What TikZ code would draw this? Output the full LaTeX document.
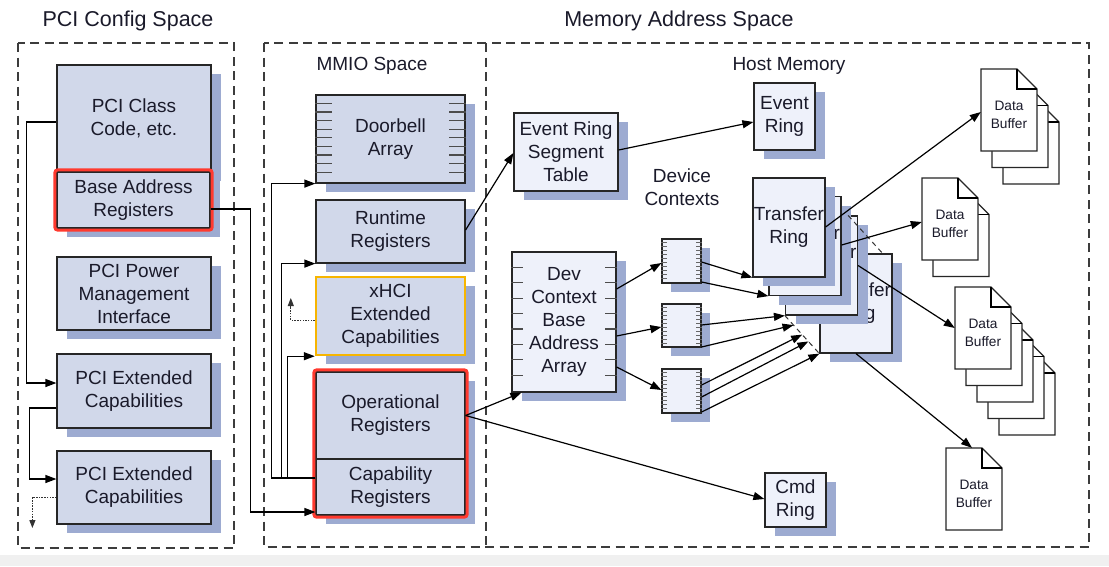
\documentclass[tikz,border=0pt]{standalone}
\usepackage{fontspec}
\setmainfont{Liberation Sans}
\usetikzlibrary{arrows.meta,shadows,fit,calc}
\definecolor{boxc}{HTML}{D1D8EA}
\definecolor{hostc}{HTML}{EEF1FA}
\definecolor{shc}{HTML}{9DABD1}
\definecolor{redc}{HTML}{FF3A2F}
\definecolor{orc}{HTML}{F7B500}
\definecolor{dashc}{HTML}{3C3C3C}
\definecolor{txtc}{HTML}{1A1A2A}
\definecolor{bandc}{HTML}{F0F0F0}
\newcommand\docstack[4]{%
  \foreach \k in {#4,...,1}{%
    \pgfmathsetmacro\ddx{#2+(\k-1)*11}%
    \pgfmathsetmacro\ddy{#3+(\k-1)*16.5}%
    \draw[docline] (\ddx,\ddy) -- ++(36,0) -- ++(20,20) -- ++(0,62) -- ++(-56,0) -- cycle;
    \draw[foldline] (\ddx+36,\ddy) -- ++(0,20) -- ++(20,0);
  }%
  \node[docbox] (#1) at (#2+28,#3+41) {};
  \node[doctext] (#1t) at (#2+28,#3+46) {Data\\Buffer};
}
\begin{document}
\begin{tikzpicture}[x=1pt,y=-1pt,
  every node/.style={text=txtc},
  wh/.style 2 args={minimum width=#1pt, minimum height=#2pt},
  bx/.style={draw=black!85, line width=1.2pt, fill=boxc, align=center, inner sep=0pt,
    font=\fontsize{19}{23}\selectfont,
    general shadow={fill=shc, shadow xshift=10pt, shadow yshift=-9pt}},
  hx/.style={bx, fill=hostc},
  smallbx/.style={draw=black!85, line width=1.2pt, fill=hostc, inner sep=0pt,
    general shadow={fill=shc, shadow xshift=9pt, shadow yshift=-9pt}},
  title/.style={font=\fontsize{21.5}{25}\selectfont},
  sublabel/.style={font=\fontsize{19}{23}\selectfont, align=center},
  frame/.style={draw=dashc, line width=1.4pt, dash pattern=on 9pt off 5.5pt},
  conn/.style={draw=black, line width=1.2pt},
  arr/.style={conn, -{Triangle[length=11pt,width=8pt]}},
  dotarr/.style={draw=black!80, line width=1pt, dash pattern=on 1.5pt off 1.2pt, -{Triangle[length=8pt,width=6pt]}},
  redframe/.style={draw=redc, line width=3pt, rounded corners=3pt, inner sep=1.6pt},
  tick/.style={draw=black!70, line width=1.1pt},
  fine/.style={draw=black!60, line width=0.6pt},
  ringdash/.style={draw=black!80, line width=1pt, dash pattern=on 5pt off 4pt},
  docline/.style={draw=black!85, line width=1.2pt, fill=white},
  foldline/.style={draw=black, line width=1.8pt},
  docbox/.style={inner sep=0pt, minimum width=56pt, minimum height=82pt},
  doctext/.style={align=center, font=\fontsize{13.7}{17.5}\selectfont}
]
\useasboundingbox (0,0) rectangle (1109,566);
\fill[white] (0,0) rectangle (1109,566);
\fill[bandc] (0,555) rectangle (1109,566);

% frames and titles
\draw[frame] (18,43) rectangle (234,548);
\draw[frame] (264,43) rectangle (1089,547);
\draw[frame] (486,43) -- (486,547);
\node[title] (tpci) at (128,21) {PCI Config Space};
\node[title] (tmem) at (679,21) {Memory Address Space};
\node[sublabel] (tmmio) at (372,66) {MMIO Space};
\node[sublabel] (thost) at (789,66) {Host Memory};
\node[sublabel] (tdev) at (682,187) {Device\\Contexts};

% PCI config space
\node[bx, wh={154}{107}] (cls) at (134,118.5) {PCI Class\\Code, etc.};
\node[bx, wh={153}{56}] (bar) at (133.5,200) {Base Address\\Registers};
\node[redframe, fit=(bar)] (barframe) {};
\node[bx, wh={154}{73}] (pm) at (134,293.5) {PCI Power\\Management\\Interface};
\node[bx, wh={154}{74}] (ext1) at (134,391) {PCI Extended\\Capabilities};
\node[bx, wh={154}{73}] (ext2) at (134,487.5) {PCI Extended\\Capabilities};

% MMIO space
\node[bx, wh={149}{88}] (db) at (390.5,139) {Doorbell\\Array};
\node[bx, wh={149}{63}] (rt) at (390.5,231.5) {Runtime\\Registers};
\node[bx, wh={149}{78}, draw=orc, line width=2.4pt] (xhci) at (390.5,316) {xHCI\\Extended\\Capabilities};
\node[bx, wh={149}{87}] (op) at (390.5,415.5) {Operational\\Registers};
\node[bx, wh={149}{56}] (cap) at (390.5,487) {Capability\\Registers};
\node[redframe, fit=(op)(cap)] (opframe) {};
\foreach \k in {0,...,8}{
  \draw[tick] ($(db.north west)+(0,9+8.6*\k)$) -- ++(17,0);
  \draw[tick] ($(db.north east)+(0,9+8.6*\k)$) -- ++(-17,0);
}

% host memory
\node[hx, wh={104}{78}] (erst) at (566,152) {Event Ring\\Segment\\Table};
\node[hx, wh={61}{67}] (er) at (784.5,116.5) {Event\\Ring};
\node[hx, wh={104}{140}] (dcbaa) at (564,322) {Dev\\Context\\Base\\Address\\Array};
\foreach \k in {0,...,7}{
  \draw[tick] ($(dcbaa.north west)+(0,16+15.4*\k)$) -- ++(12,0);
  \draw[tick] ($(dcbaa.north east)+(0,16+15.4*\k)$) -- ++(-12,0);
}
\node[smallbx, wh={39}{44}] (dc1) at (681.5,261) {};
\node[smallbx, wh={39}{43}] (dc2) at (681.5,325.5) {};
\node[smallbx, wh={39}{44}] (dc3) at (681.5,391) {};
\foreach \n in {dc1,dc2,dc3}{
  \foreach \k in {1,...,10}{
    \draw[fine] ($(\n.north west)+(0,4*\k)$) -- ++(6,0);
    \draw[fine] ($(\n.north east)+(0,4*\k)$) -- ++(-6,0);
  }
}
\node[hx, wh={72}{99}] (tr4) at (856,303.5) {Transfer\\Ring};
\node[hx, wh={72}{99}] (tr3) at (821.5,265.5) {Transfer\\Ring};
\node[hx, wh={72}{99}] (tr2) at (805,246) {Transfer\\Ring};
\node[hx, wh={72}{99}] (tr1) at (789,227.5) {Transfer\\Ring};
\draw[ringdash] ([xshift=-10pt]tr3.north east) -- ([xshift=-10pt]tr4.north east);
\draw[ringdash] (tr3.south west) -- (tr4.south west);
\node[hx, wh={61}{54}] (cmd) at (795.5,500) {Cmd\\Ring};

% data buffers
\docstack{B1}{981}{69}{3}
\docstack{B2}{922}{178}{2}
\docstack{B3}{955}{287}{5}
\docstack{B4}{946}{448}{1}

% connectors: PCI config space
\draw[arr] ([yshift=-3.5pt]cls.west) -- ++(-30,0) |- ([yshift=8pt]ext1.west);
\draw[arr] ([yshift=-17pt]ext1.west) -- ++(-27,0) |- ([yshift=8.5pt]ext2.west);
\draw[dotarr] ([yshift=-9.5pt]ext2.west) -- ++(-24,0) -- ++(0,31);
\draw[arr] ([yshift=-9pt]bar.east) -- ++(40,0) |- ([yshift=-25pt]cap.west);

% connectors: MMIO
\draw[arr] ([yshift=9pt]cap.west) -- ++(-44,0) |- (db.south west);
\draw[arr] ([yshift=9pt]cap.west) -- ++(-34,0) |- (rt.south west);
\draw[arr] ([yshift=9pt]cap.west) -- ++(-28,0) |- (xhci.south west);
\draw[dotarr] ([yshift=-4pt]xhci.west) -- ++(-24,0) -- ++(0,-22);
\draw[arr] ([yshift=1.5pt]rt.east) -- ([yshift=-1pt]erst.west);
\draw[arr] (op.east) -- ([xshift=10pt]dcbaa.south west);
\draw[arr] (op.east) -- ([yshift=1pt]cmd.west);

% connectors: host memory
\draw[arr] ([yshift=2pt]erst.east) -- ([yshift=-5.5pt]er.west);
\draw[arr] ([yshift=33pt]dcbaa.east) -- ([yshift=-2pt]dc1.west);
\draw[arr] ([yshift=-14pt]dcbaa.east) -- ([yshift=-1.5pt]dc2.west);
\draw[arr] ([yshift=-45pt]dcbaa.east) -- ([yshift=1pt]dc3.west);
\coordinate (m1) at ($(tr3.south west)!0.25!(tr4.south west)$);
\coordinate (m2) at ($(tr3.south west)!0.5!(tr4.south west)$);
\coordinate (m3) at ($(tr3.south west)!0.68!(tr4.south west)$);
\draw[arr] ([yshift=-1pt]dc1.east) -- (tr1.south west);
\draw[arr] ([yshift=-21pt]dc1.east) -- (tr2.south west);
\draw[arr] ([yshift=0.5pt]dc2.east) -- (tr3.south west);
\draw[arr] ([yshift=-21.5pt]dc2.east) -- (m1);
\draw[arr] ([yshift=6pt]dc3.east) -- (m2);
\draw[arr] ([yshift=-6pt]dc3.east) -- (m3);
\draw[arr] ([yshift=-21pt]dc3.east) -- (tr4.south west);
\draw[arr] ([yshift=0.5pt]tr1.east) -- ([yshift=-2pt]B1.west);
\draw[arr] ([yshift=1pt]tr2.east) -- ([yshift=-3pt]B2.west);
\draw[arr] (tr3.east) -- (B3.west);
\draw[arr] (tr4.south) -- ([xshift=-2pt]B4.north);
\end{tikzpicture}
\end{document}
